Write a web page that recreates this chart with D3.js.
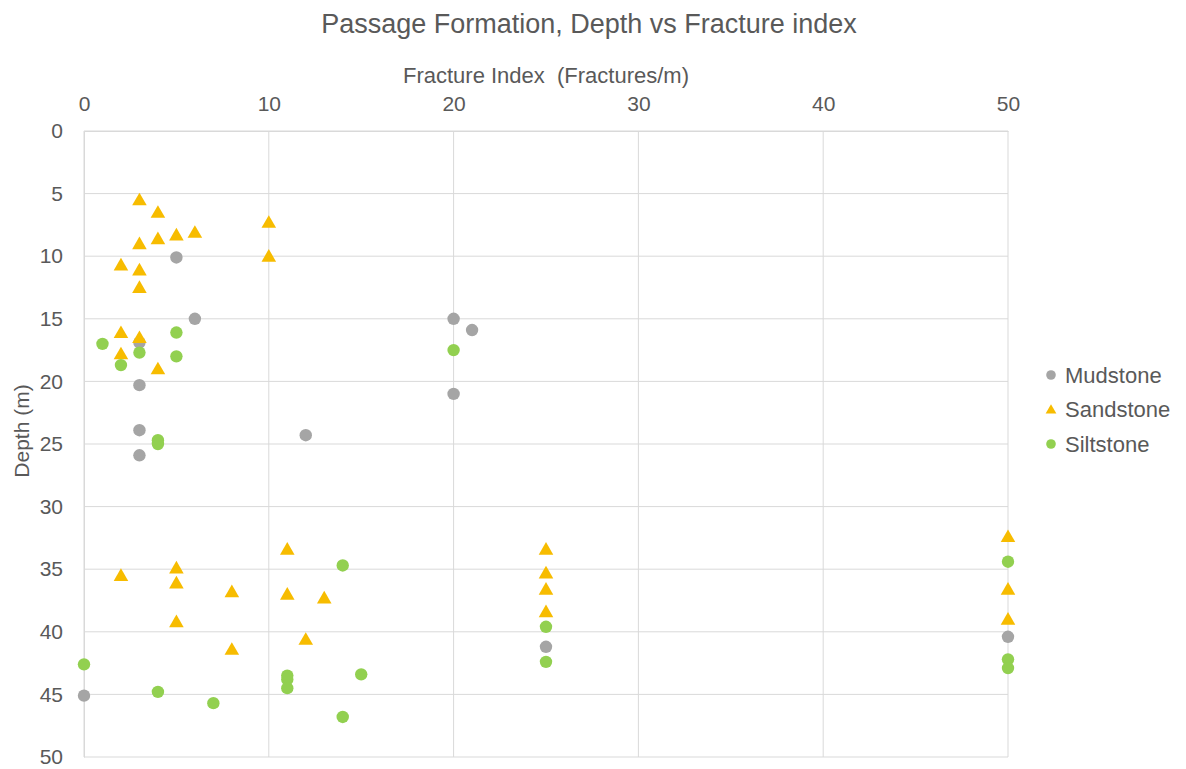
<!DOCTYPE html>
<html><head><meta charset="utf-8">
<script src="https://cdn.jsdelivr.net/npm/d3@7"></script>
<style>body{margin:0;background:#fff}svg{display:block;font-family:Arial,"Liberation Sans",sans-serif}</style>
</head><body><svg id="c" width="1186" height="769"></svg>
<script>
const title = "Passage Formation, Depth vs Fracture index";
const xTitle = "Fracture Index  (Fractures/m)";
const yTitle = "Depth (m)";
const xTicks = [0, 10, 20, 30, 40, 50];
const yTicks = [0, 5, 10, 15, 20, 25, 30, 35, 40, 45, 50];
const seriesNames = ["Mudstone", "Sandstone", "Siltstone"];
const mudstone = [[5,10.1],[6,15],[3,16.9],[3,20.3],[3,23.9],[3,25.9],[12,24.3],[20,15],[21,15.9],[20,21],[25,41.2],[50,40.4],[0,45.1]];
const sandstone = [[3,5.6],[4,6.6],[3,9.1],[4,8.7],[5,8.4],[6,8.2],[10,7.4],[10,10.1],[2,10.8],[3,11.2],[3,12.6],[2,16.2],[3,16.6],[2,17.9],[4,19.1],
  [2,35.6],[5,35.0],[5,36.2],[8,36.9],[5,39.3],[8,41.5],[11,33.5],[11,37.1],[13,37.4],[12,40.7],[25,33.5],[25,35.4],[25,36.7],[25,38.5],[50,32.5],[50,36.7],[50,39.1]];
const siltstone = [[1,17.0],[3,17.7],[5,16.1],[5,18.0],[2,18.7],[4,24.7],[4,25.0],[20,17.5],[14,34.7],[0,42.6],[4,44.8],[7,45.7],[11,43.5],[11,43.8],[11,44.5],[15,43.4],[14,46.8],[25,39.6],[25,42.4],[50,34.4],[50,42.2],[50,42.9]];
const colors = ["#A5A5A5", "#F7BC00", "#92D050"];

const svg = d3.select("#c");
const m = {l:84, r:1008, t:131, b:757};
const x = d3.scaleLinear().domain([0,50]).range([m.l, m.r]);
const y = d3.scaleLinear().domain([0,50]).range([m.t, m.b]);
const txt = "#595959";

// gridlines
svg.append("g").selectAll("line").data(yTicks).join("line")
  .attr("x1", m.l).attr("x2", m.r).attr("y1", d=>y(d)).attr("y2", d=>y(d))
  .attr("stroke", "#D9D9D9").attr("stroke-width", 1);
svg.append("g").selectAll("line").data(xTicks).join("line")
  .attr("y1", m.t).attr("y2", m.b).attr("x1", d=>x(d)).attr("x2", d=>x(d))
  .attr("stroke", "#D9D9D9").attr("stroke-width", 1);

// axes
const xa = svg.append("g").attr("transform", `translate(0,${m.t})`)
  .call(d3.axisTop(x).tickValues(xTicks).tickSize(0).tickPadding(20));
const ya = svg.append("g").attr("transform", `translate(${m.l},0)`)
  .call(d3.axisLeft(y).tickValues(yTicks).tickSize(0).tickPadding(21));
[xa, ya].forEach(a => {
  a.select(".domain").attr("stroke", "#D9D9D9");
  a.selectAll("text").attr("fill", txt).style("font-size", "21px").style("font-family", "Arial, 'Liberation Sans', sans-serif");
});

// titles
svg.append("text").attr("x", 589).attr("y", 33).attr("text-anchor", "middle")
  .attr("fill", txt).style("font-size", "27px").text(title);
svg.append("text").attr("x", 546).attr("y", 83).attr("text-anchor", "middle")
  .attr("fill", txt).style("font-size", "22px").style("white-space","pre").text(xTitle);
svg.append("text").attr("transform", `translate(29,431) rotate(-90)`).attr("text-anchor", "middle")
  .attr("fill", txt).style("font-size", "21px").text(yTitle);

// markers
const tri = d3.symbol().type(d3.symbolTriangle).size(92);
const data = [mudstone, sandstone, siltstone];
data.forEach((s, i) => {
  const g = svg.append("g");
  if (i === 1) {
    g.selectAll("path").data(s).join("path")
      .attr("d", tri).attr("transform", d => `translate(${x(d[0])},${y(d[1])})`)
      .attr("fill", colors[i]);
  } else {
    g.selectAll("circle").data(s).join("circle")
      .attr("cx", d => x(d[0])).attr("cy", d => y(d[1])).attr("r", 6.2)
      .attr("fill", colors[i]);
  }
});

// legend
const lg = svg.append("g");
seriesNames.forEach((n, i) => {
  const ly = 375 + i * 34.5;
  if (i === 1) {
    lg.append("path").attr("d", d3.symbol().type(d3.symbolTriangle).size(50))
      .attr("transform", `translate(1051,${ly+1})`).attr("fill", colors[i]);
  } else {
    lg.append("circle").attr("cx", 1051).attr("cy", ly).attr("r", 4.8).attr("fill", colors[i]);
  }
  lg.append("text").attr("x", 1065).attr("y", ly).attr("dy", "0.35em")
    .attr("fill", txt).style("font-size", "22px").text(n);
});
</script></body></html>
